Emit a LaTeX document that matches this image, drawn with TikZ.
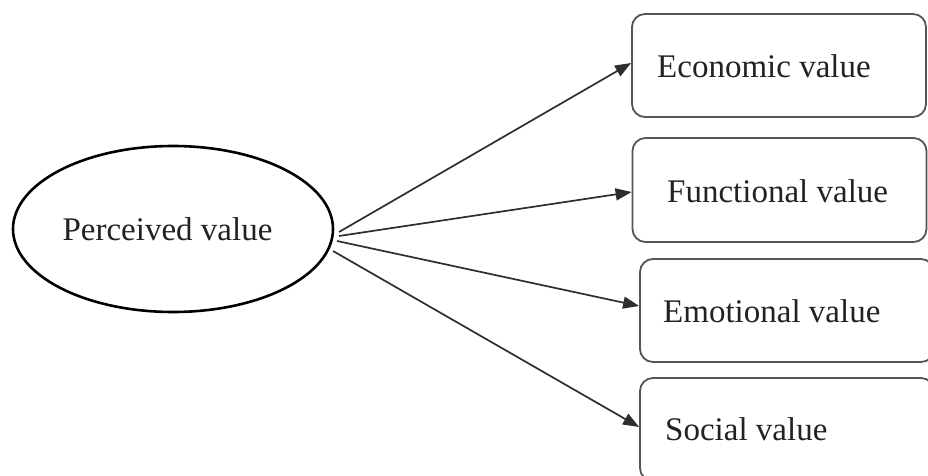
\documentclass[tikz,border=0pt]{standalone}
\usepackage{fontspec}
\setmainfont{Liberation Serif}
\usetikzlibrary{arrows.meta,shapes.geometric}
\definecolor{boxgray}{HTML}{555555}
\definecolor{linegray}{HTML}{2E2E2E}
\definecolor{inkgray}{HTML}{222222}
\begin{document}
\begin{tikzpicture}[x=1pt,y=-1pt,
  valuebox/.style={draw=boxgray, line width=1.8pt, rounded corners=13pt,
    minimum width=294pt, minimum height=103pt, inner sep=0pt},
  boxlabel/.style={anchor=base west, inner sep=0pt, text=inkgray,
    font=\fontsize{33}{40}\selectfont},
  link/.style={draw=linegray, line width=1.7pt,
    -{Triangle[length=16pt,width=12pt]}}]
\clip (0,0) rectangle (928,476);
\fill[white] (0,0) rectangle (928,476);

% central construct
\node[ellipse, draw, line width=2.6pt, minimum width=320pt, minimum height=166pt,
  text=inkgray, font=\fontsize{33}{40}\selectfont, text height=30pt, text depth=7pt]
  (pv) at (173,229) {\hspace*{-11pt}Perceived value};

% value dimensions
\node[valuebox] (b1) at (779,65.5) {};
\node[valuebox, minimum height=104pt] (b2) at (779.5,190) {};
\node[valuebox] (b3) at (787,310.5) {};
\node[valuebox] (b4) at (787,429.5) {};

\node[boxlabel] (t1) at (657,78) {Economic value};
\node[boxlabel] (t2) at (667,202) {Functional value};
\node[boxlabel] (t3) at (663,322) {Emotional value};
\node[boxlabel] (t4) at (665,440) {Social value};

% connector start points on the ellipse rim
\coordinate (s1) at (339,232);
\coordinate (s2) at (339,236);
\coordinate (s3) at (337,241);
\coordinate (s4) at (333,251);

\draw[link] (s1) -- ([yshift=2.5pt]b1.west);
\draw[link] (s2) -- ([yshift=-2pt]b2.west);
\draw[link] (s3) -- ([yshift=4.5pt]b3.west);
\draw[link] (s4) -- ([yshift=2.5pt]b4.west);
\end{tikzpicture}
\end{document}
